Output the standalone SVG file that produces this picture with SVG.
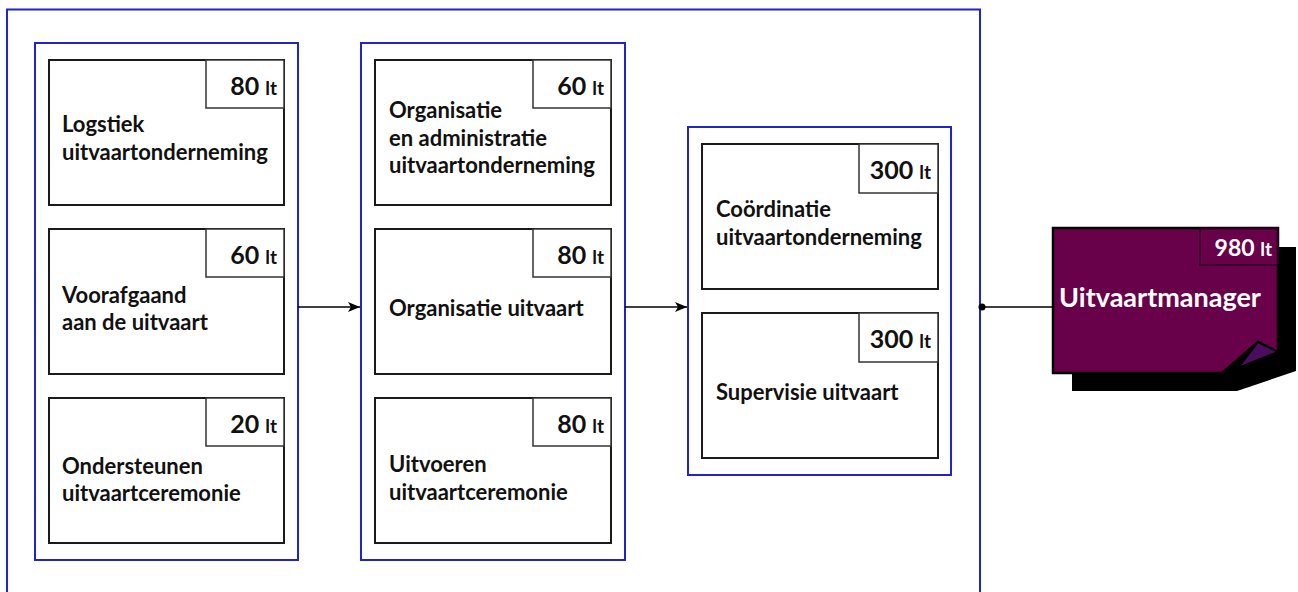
<svg xmlns="http://www.w3.org/2000/svg" width="1298" height="592" viewBox="0 0 1298 592">
<defs>
<style>
.frame{fill:none;stroke:#2323c8;stroke-width:2}
.node{fill:#fff;stroke:#1a1a1a;stroke-width:2}
.tag{fill:#fff;stroke:#333;stroke-width:1.5}
.lbl{font-family:Lato,"Liberation Sans",sans-serif;font-weight:700;font-size:22px;fill:#111}
.num{font-family:Lato,"Liberation Sans",sans-serif;font-weight:700;fill:#111}
.n1{font-size:25px}
.n2{font-size:19px}
.conn{stroke:#000;stroke-width:1.6;fill:none}
</style>
<marker id="arr" viewBox="0 0 12 10" refX="12" refY="5" markerWidth="12" markerHeight="10" markerUnits="userSpaceOnUse" orient="auto">
<path d="M0,0 L12,5 L0,10 L3,5 Z" fill="#000"/>
</marker>
</defs>
<rect class="frame" x="7" y="9.5" width="973" height="620"/>
<g id="col1">
<rect class="frame" x="35" y="43" width="263" height="517"/>
</g>
<g id="col2">
<rect class="frame" x="361" y="43" width="264" height="517"/>
</g>
<g id="col3">
<rect class="frame" x="688" y="127" width="263" height="348"/>
</g>
<g id="node-logistiek">
<rect class="node" x="49" y="60" width="235" height="145"/>
<rect class="tag" x="206" y="60" width="78" height="48"/>
<text class="num" x="277" y="95" text-anchor="end"><tspan class="n1">80 </tspan><tspan class="n2">lt</tspan></text>
<text class="lbl" x="62" y="132">Logstiek</text>
<text class="lbl" x="62" y="160">uitvaartonderneming</text>
</g>
<g id="node-voorafgaand">
<rect class="node" x="49" y="229" width="235" height="145"/>
<rect class="tag" x="206" y="229" width="78" height="48"/>
<text class="num" x="277" y="264" text-anchor="end"><tspan class="n1">60 </tspan><tspan class="n2">lt</tspan></text>
<text class="lbl" x="62" y="303">Voorafgaand</text>
<text class="lbl" x="62" y="330">aan de uitvaart</text>
</g>
<g id="node-ondersteunen">
<rect class="node" x="49" y="398" width="235" height="145"/>
<rect class="tag" x="206" y="398" width="78" height="48"/>
<text class="num" x="277" y="433" text-anchor="end"><tspan class="n1">20 </tspan><tspan class="n2">lt</tspan></text>
<text class="lbl" x="62" y="474">Ondersteunen</text>
<text class="lbl" x="62" y="501">uitvaartceremonie</text>
</g>
<g id="node-organisatie-admin">
<rect class="node" x="375" y="60" width="236" height="145"/>
<rect class="tag" x="533" y="60" width="78" height="48"/>
<text class="num" x="604" y="95" text-anchor="end"><tspan class="n1">60 </tspan><tspan class="n2">lt</tspan></text>
<text class="lbl" x="389" y="118">Organisatie</text>
<text class="lbl" x="389" y="146">en administratie</text>
<text class="lbl" x="389" y="173">uitvaartonderneming</text>
</g>
<g id="node-organisatie-uitvaart">
<rect class="node" x="375" y="229" width="236" height="145"/>
<rect class="tag" x="533" y="229" width="78" height="48"/>
<text class="num" x="604" y="264" text-anchor="end"><tspan class="n1">80 </tspan><tspan class="n2">lt</tspan></text>
<text class="lbl" x="389" y="316">Organisatie uitvaart</text>
</g>
<g id="node-uitvoeren">
<rect class="node" x="375" y="398" width="236" height="145"/>
<rect class="tag" x="533" y="398" width="78" height="48"/>
<text class="num" x="604" y="433" text-anchor="end"><tspan class="n1">80 </tspan><tspan class="n2">lt</tspan></text>
<text class="lbl" x="389" y="472">Uitvoeren</text>
<text class="lbl" x="389" y="500">uitvaartceremonie</text>
</g>
<g id="node-coordinatie">
<rect class="node" x="702" y="144" width="236" height="145"/>
<rect class="tag" x="859" y="144" width="79" height="49"/>
<text class="num" x="931" y="179" text-anchor="end"><tspan class="n1">300 </tspan><tspan class="n2">lt</tspan></text>
<text class="lbl" x="716" y="217">Coördinatie</text>
<text class="lbl" x="716" y="245">uitvaartonderneming</text>
</g>
<g id="node-supervisie">
<rect class="node" x="702" y="313" width="236" height="145"/>
<rect class="tag" x="859" y="313" width="79" height="49"/>
<text class="num" x="931" y="348" text-anchor="end"><tspan class="n1">300 </tspan><tspan class="n2">lt</tspan></text>
<text class="lbl" x="716" y="400">Supervisie uitvaart</text>
</g>
<g id="node-uitvaartmanager">
<polygon points="1072,247 1296,247 1296,371 1237,391 1072,391" fill="#000"/>
<polygon points="1053,228 1278,228 1278,352 1258,342 1222,373 1053,373" fill="#68004a" stroke="#000" stroke-width="2.5" stroke-linejoin="miter"/>
<polygon points="1258,342 1278,352 1238,368" fill="#4a0c5e" stroke="#000" stroke-width="2"/>
<rect x="1200" y="228" width="78" height="37" fill="none" stroke="#2a0020" stroke-width="1.5"/>
<text x="1272" y="256" text-anchor="end" font-family="Lato,'Liberation Sans',sans-serif" font-weight="700" fill="#fff"><tspan font-size="23">980 </tspan><tspan font-size="19">lt</tspan></text>
<text x="1160" y="307" text-anchor="middle" font-family="Lato,'Liberation Sans',sans-serif" font-weight="700" font-size="27" fill="#fff">Uitvaartmanager</text>
</g>
<g id="connectors">
<line class="conn" x1="298" y1="307" x2="360" y2="307" marker-end="url(#arr)"/>
<line class="conn" x1="625" y1="307" x2="687" y2="307" marker-end="url(#arr)"/>
<line class="conn" x1="981" y1="307" x2="1053" y2="307"/>
<circle cx="982" cy="307" r="3.5" fill="#000"/>
</g>
</svg>
